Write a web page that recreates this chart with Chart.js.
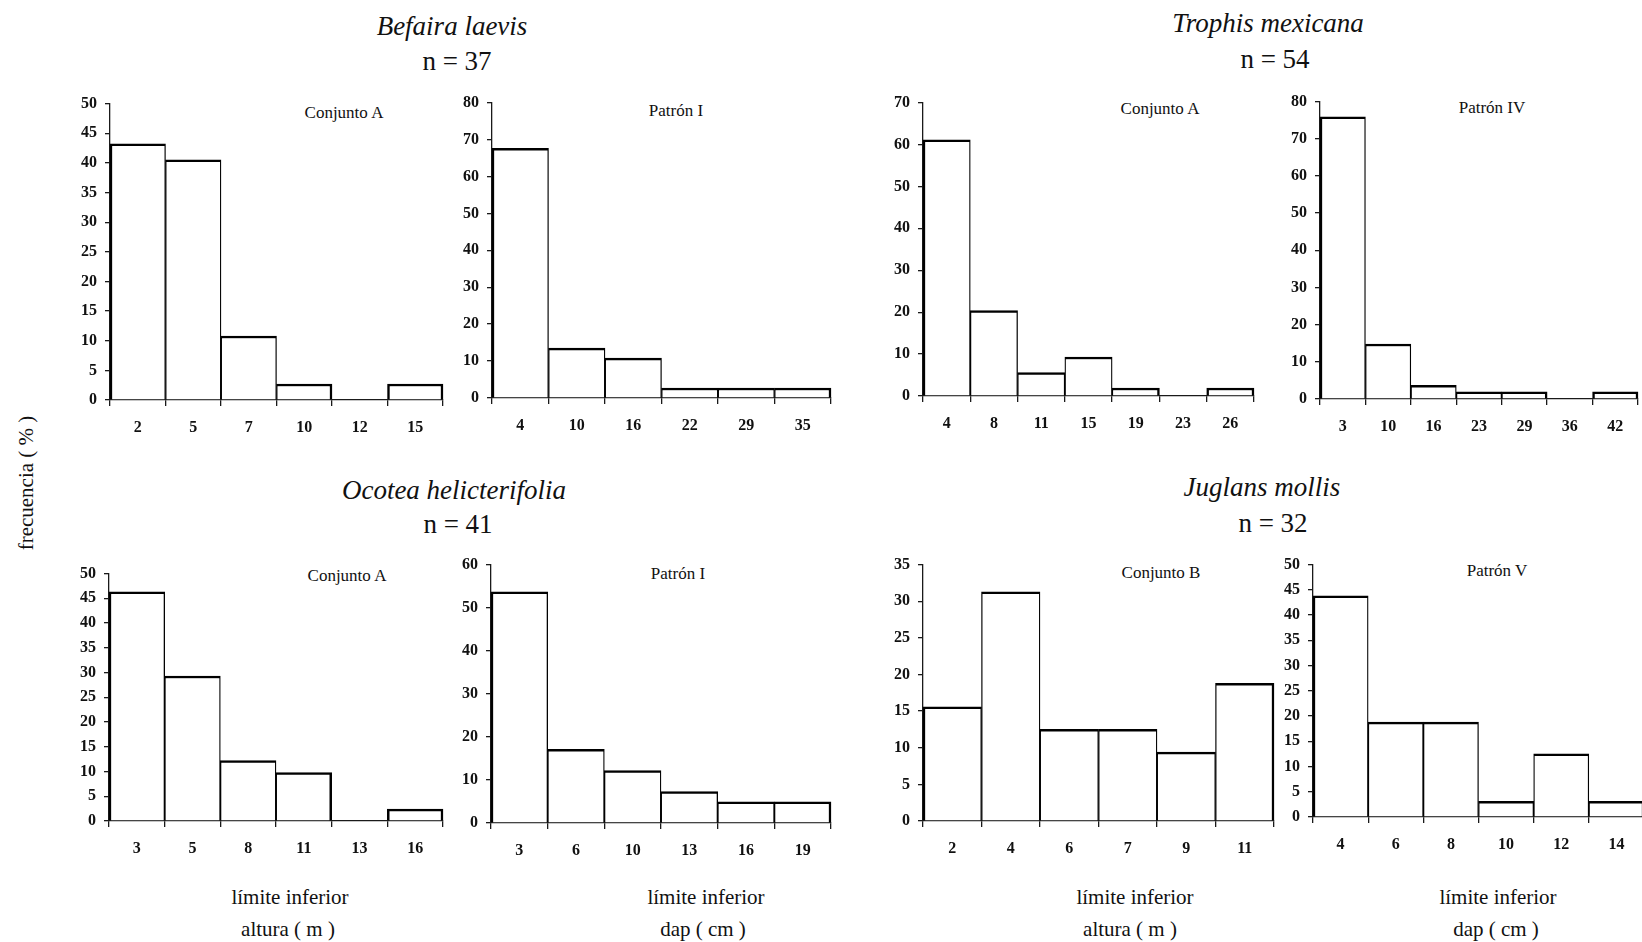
<!DOCTYPE html>
<html lang="es">
<head>
    <meta charset="UTF-8">
    <title>Distribución de frecuencias</title>
    <script src="https://cdn.jsdelivr.net/npm/chart.js@4.4.0/dist/chart.umd.min.js"></script>
    <style>
        body {
            margin: 0;
            width: 1642px;
            height: 942px;
            overflow: hidden;
            background: #fff;
            position: relative;
            font-family: "Liberation Serif", "Times New Roman", serif;
            color: #111;
        }
        canvas {
            position: absolute;
        }
        .txt {
            position: absolute;
            transform: translate(-50%, -50%);
            white-space: nowrap;
            line-height: 1;
        }
        .species { font-size: 27px; font-style: italic; }
        .n { font-size: 27px; }
        .sub { font-size: 17px; }
        .axis { font-size: 21px; }
        .ylab {
            font-size: 21px;
            transform: translate(-50%, -50%) rotate(-90deg);
        }
    </style>
</head>
<body>
    <div class="txt species" style="left:452px; top:26px">Befaira laevis</div>
    <div class="txt n" style="left:457px; top:61px">n = 37</div>
    <div class="txt species" style="left:1268px; top:23px">Trophis mexicana</div>
    <div class="txt n" style="left:1275px; top:59px">n = 54</div>
    <div class="txt species" style="left:454px; top:490px">Ocotea helicterifolia</div>
    <div class="txt n" style="left:458px; top:524px">n = 41</div>
    <div class="txt species" style="left:1262px; top:487px">Juglans mollis</div>
    <div class="txt n" style="left:1273px; top:523px">n = 32</div>

    <div class="txt sub" style="left:344px; top:112px">Conjunto A</div>
    <div class="txt sub" style="left:676px; top:110px">Patrón I</div>
    <div class="txt sub" style="left:1160px; top:108px">Conjunto A</div>
    <div class="txt sub" style="left:1492px; top:107px">Patrón IV</div>
    <div class="txt sub" style="left:347px; top:575px">Conjunto A</div>
    <div class="txt sub" style="left:678px; top:573px">Patrón I</div>
    <div class="txt sub" style="left:1161px; top:572px">Conjunto B</div>
    <div class="txt sub" style="left:1497px; top:570px">Patrón V</div>

    <div class="txt axis" style="left:290px; top:897px">límite inferior</div>
    <div class="txt axis" style="left:288px; top:929px">altura ( m )</div>
    <div class="txt axis" style="left:706px; top:897px">límite inferior</div>
    <div class="txt axis" style="left:703px; top:929px">dap ( cm )</div>
    <div class="txt axis" style="left:1135px; top:897px">límite inferior</div>
    <div class="txt axis" style="left:1130px; top:929px">altura ( m )</div>
    <div class="txt axis" style="left:1498px; top:897px">límite inferior</div>
    <div class="txt axis" style="left:1496px; top:929px">dap ( cm )</div>

    <div class="txt ylab" style="left:26px; top:483px">frecuencia ( % )</div>

    <script>
        // frequencies (%) per size class, lower class limit as label
        var befairaAlturaLabels = ['2', '5', '7', '10', '12', '15'];
        var befairaAlturaValues = [43.2, 40.5, 10.8, 2.7, 0, 2.7];
        var befairaDapLabels = ['4', '10', '16', '22', '29', '35'];
        var befairaDapValues = [67.6, 13.5, 10.8, 2.7, 2.7, 2.7];

        var trophisAlturaLabels = ['4', '8', '11', '15', '19', '23', '26'];
        var trophisAlturaValues = [61.1, 20.4, 5.6, 9.3, 1.9, 0, 1.9];
        var trophisDapLabels = ['3', '10', '16', '23', '29', '36', '42'];
        var trophisDapValues = [75.9, 14.8, 3.7, 1.9, 1.9, 0, 1.9];

        var ocoteaAlturaLabels = ['3', '5', '8', '11', '13', '16'];
        var ocoteaAlturaValues = [46.3, 29.3, 12.2, 9.8, 0, 2.4];
        var ocoteaDapLabels = ['3', '6', '10', '13', '16', '19'];
        var ocoteaDapValues = [53.7, 17.1, 12.2, 7.3, 4.9, 4.9];

        var juglansAlturaLabels = ['2', '4', '6', '7', '9', '11'];
        var juglansAlturaValues = [15.6, 31.3, 12.5, 12.5, 9.4, 18.8];
        var juglansDapLabels = ['4', '6', '8', '10', '12', '14'];
        var juglansDapValues = [43.8, 18.8, 18.8, 3.1, 12.5, 3.1];

        // y axis range of each histogram
        var yMax = [50, 80, 70, 80, 50, 60, 35, 50];
        var yStep = [5, 10, 10, 10, 5, 10, 5, 5];

        // plot area of each histogram on the page: left, right, top, bottom
        var boxes = [
            [110, 443, 100, 400],
            [491.5, 830, 99.3, 398.3],
            [923, 1254, 99.3, 396.7],
            [1320, 1638, 97.7, 398.3],
            [109.3, 443, 570, 821],
            [490.7, 831, 560.7, 822.7],
            [923.3, 1274.3, 560.7, 821],
            [1313.3, 1644, 560.7, 816.7]
        ];

        var labelSets = [befairaAlturaLabels, befairaDapLabels, trophisAlturaLabels, trophisDapLabels,
                         ocoteaAlturaLabels, ocoteaDapLabels, juglansAlturaLabels, juglansDapLabels];
        var valueSets = [befairaAlturaValues, befairaDapValues, trophisAlturaValues, trophisDapValues,
                         ocoteaAlturaValues, ocoteaDapValues, juglansAlturaValues, juglansDapValues];

        var Y_AXIS_W = 55;
        var X_AXIS_H = 50;
        var PAD_TOP = 14;
        var PAD_RIGHT = 4;
        var INK = '#1a1a1a';

        // thinner side borders where two bars touch so shared edges don't double up
        function barBorder(ctx) {
            var data = ctx.dataset.data;
            var i = ctx.dataIndex;
            var prev = i > 0 && data[i - 1] > 0;
            var next = i < data.length - 1 && data[i + 1] > 0;
            return { top: 2.5, bottom: 0, left: prev ? 1.3 : 2.5, right: next ? 1.3 : 2.5 };
        }

        for (var k = 0; k < boxes.length; k++) {
            var b = boxes[k];
            var w = Math.round(b[1] - b[0] + Y_AXIS_W + PAD_RIGHT);
            var h = Math.round(b[3] - b[2] + PAD_TOP + X_AXIS_H);

            var canvas = document.createElement('canvas');
            canvas.width = w;
            canvas.height = h;
            canvas.style.width = w + 'px';
            canvas.style.height = h + 'px';
            canvas.style.left = Math.round(b[0] - Y_AXIS_W) + 'px';
            canvas.style.top = Math.round(b[2] - PAD_TOP) + 'px';
            document.body.appendChild(canvas);

            new Chart(canvas.getContext('2d'), {
                type: 'bar',
                data: {
                    labels: labelSets[k],
                    datasets: [{
                        data: valueSets[k],
                        backgroundColor: '#ffffff',
                        borderColor: '#000000',
                        borderWidth: barBorder,
                        borderSkipped: false,
                        barPercentage: 1,
                        categoryPercentage: 1,
                        clip: false
                    }]
                },
                options: {
                    responsive: false,
                    animation: false,
                    devicePixelRatio: 1,
                    layout: { padding: { top: PAD_TOP, right: PAD_RIGHT, left: 0, bottom: 0 } },
                    plugins: {
                        legend: { display: false },
                        tooltip: { enabled: false }
                    },
                    scales: {
                        x: {
                            offset: true,
                            afterFit: function (s) { s.height = X_AXIS_H; },
                            border: { color: INK, width: 1.3 },
                            grid: {
                                offset: true,
                                drawOnChartArea: false,
                                tickLength: 6,
                                color: INK,
                                lineWidth: 1.3
                            },
                            ticks: {
                                autoSkip: false,
                                maxRotation: 0,
                                padding: 12,
                                color: '#111',
                                font: { family: 'Liberation Serif', size: 16, weight: 'bold' }
                            }
                        },
                        y: {
                            min: 0,
                            max: yMax[k],
                            afterFit: function (s) { s.width = Y_AXIS_W; },
                            border: { color: INK, width: 1.3 },
                            grid: {
                                drawOnChartArea: false,
                                tickLength: 5,
                                color: INK,
                                lineWidth: 1.3
                            },
                            ticks: {
                                stepSize: yStep[k],
                                padding: 8,
                                color: '#111',
                                font: { family: 'Liberation Serif', size: 16, weight: 'bold' }
                            }
                        }
                    }
                }
            });
        }
    </script>
</body>
</html>
